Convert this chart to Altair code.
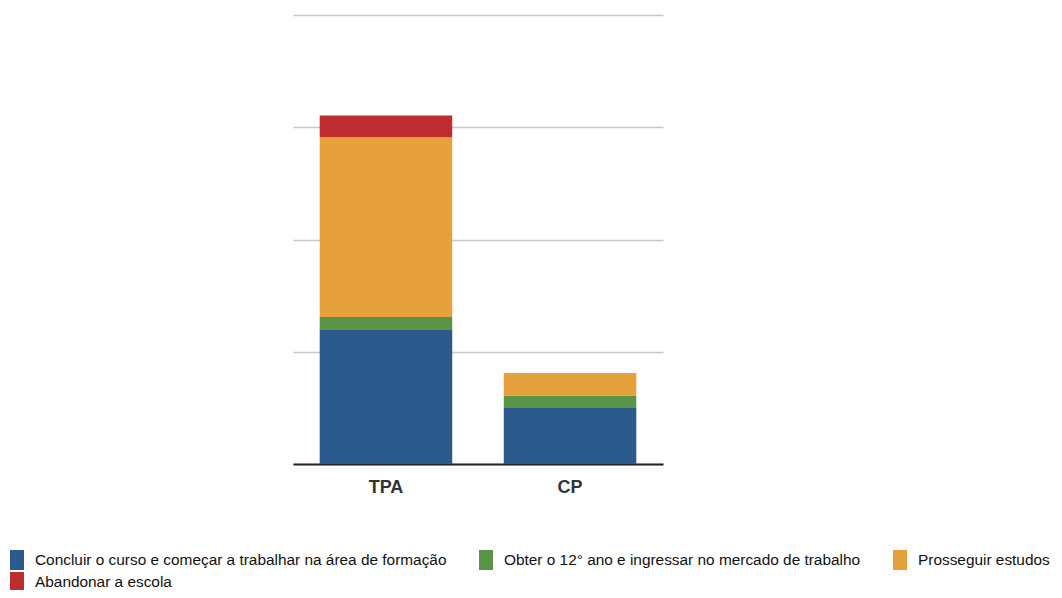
import altair as alt
import pandas as pd

categories = ["TPA", "CP"]
series = [
    "Concluir o curso e começar a trabalhar na área de formação",
    "Obter o 12° ano e ingressar no mercado de trabalho",
    "Prosseguir estudos",
    "Abandonar a escola",
]
colors = ["#2D5A8C", "#5A9447", "#E6A13C", "#BE2D30"]
tpa_values = [12.0, 1.1, 16.0, 1.95]
cp_values = [5.0, 1.1, 2.0, 0.0]

rows = []
for cat, vals in zip(categories, [tpa_values, cp_values]):
    for i, (s, v) in enumerate(zip(series, vals)):
        if v > 0:
            rows.append({"cat": cat, "serie": s, "valor": v, "ordem": i})
df = pd.DataFrame(rows)

chart = alt.Chart(df).mark_bar().encode(
    x=alt.X("cat:N", sort=categories, title=None,
            scale=alt.Scale(paddingInner=0.28, paddingOuter=0.145),
            axis=alt.Axis(labelAngle=0, ticks=False, domainColor="#222222", domainWidth=2,
                          labelFont="Liberation Sans", labelFontSize=18, labelFontWeight="bold",
                          labelColor="#333333", labelPadding=14)),
    y=alt.Y("valor:Q", stack="zero", title=None,
            scale=alt.Scale(domain=[0, 40], nice=False),
            axis=alt.Axis(values=[0, 10, 20, 30, 40], labels=False, ticks=False, domain=False,
                          gridColor="#C8C8C8", gridWidth=1.5)),
    color=alt.Color("serie:N", scale=alt.Scale(domain=series, range=colors),
                    legend=alt.Legend(
                        title=None, orient="none", legendX=-286, legendY=535, direction="horizontal",
                        columns=3, columnPadding=29, rowPadding=2,
                        symbolType="M-0.7,-1H0.7V1H-0.7Z", symbolSize=400,
                        symbolStrokeWidth=0, labelFont="Liberation Sans",
                        labelFontSize=15.4, labelColor="#111111", labelLimit=600, labelOffset=8)),
    order=alt.Order("ordem:Q", sort="ascending"),
).properties(
    width=370, height=449,
    background="white",
    autosize=alt.AutoSizeParams(type="none"),
    padding={"left": 285, "top": 7, "right": 391, "bottom": 126},
).configure_view(stroke=None)

chart.save("out.html", embed_options={"renderer": "svg", "actions": False})
